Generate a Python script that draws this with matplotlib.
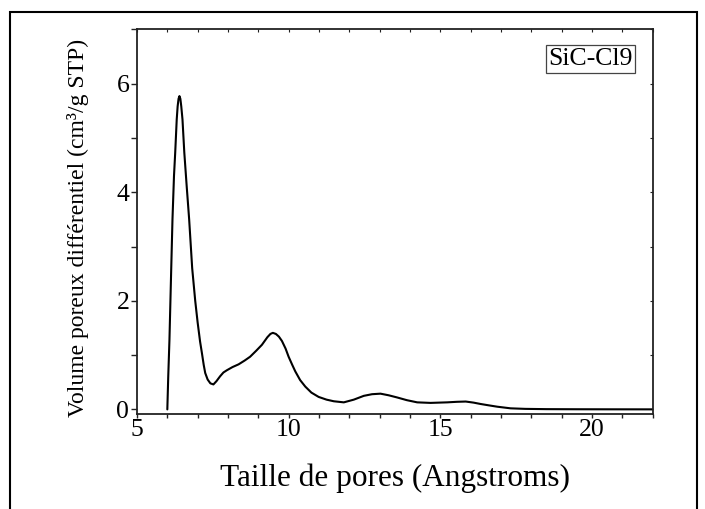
import matplotlib
matplotlib.use("Agg")
import matplotlib.pyplot as plt
from matplotlib.patches import Rectangle
from matplotlib.ticker import MultipleLocator

# ---- data ----
pore_size = [6.00, 6.03, 6.07, 6.12, 6.17, 6.22, 6.26, 6.31, 6.34, 6.37,
             6.40, 6.43, 6.46, 6.50, 6.56, 6.64, 6.72, 6.82, 6.92, 7.00, 7.08,
             7.14, 7.20, 7.25, 7.33, 7.42, 7.52, 7.62, 7.74, 7.85, 7.96,
             8.15, 8.35, 8.55, 8.73, 8.93, 9.12, 9.30, 9.40, 9.48, 9.58,
             9.68, 9.78, 9.90, 10.00, 10.12, 10.22, 10.38, 10.55, 10.75, 10.99,
             11.25, 11.49, 11.82, 12.15, 12.48, 12.75, 13.03, 13.30, 13.58, 13.90,
             14.24, 14.68, 15.23, 15.55, 15.84, 16.10, 16.33, 16.60, 16.88, 17.32,
             17.80, 18.50, 19.50, 20.50, 22.00]
volume = [0.00, 0.60, 1.28, 2.40, 3.50, 4.30, 4.73, 5.34, 5.58, 5.72,
          5.77, 5.72, 5.58, 5.34, 4.73, 4.10, 3.50, 2.60, 2.00, 1.60, 1.25,
          1.04, 0.82, 0.67, 0.55, 0.48, 0.46, 0.52, 0.61, 0.68, 0.72,
          0.78, 0.83, 0.90, 0.97, 1.08, 1.19, 1.33, 1.39, 1.41, 1.39,
          1.34, 1.26, 1.12, 0.97, 0.82, 0.70, 0.54, 0.42, 0.31, 0.23,
          0.18, 0.15, 0.13, 0.18, 0.25, 0.28, 0.29, 0.26, 0.22, 0.17,
          0.13, 0.12, 0.13, 0.14, 0.145, 0.125, 0.10, 0.075, 0.05, 0.02,
          0.01, 0.005, 0.003, 0.002, 0.001]
x_major_ticks = [5, 10, 15, 20]
y_major_ticks = [0, 2, 4, 6]
sample_label = "SiC-Cl9"
x_title = "Taille de pores (Angstroms)"
y_title = "Volume poreux différentiel (cm³/g STP)"

plt.rcParams['font.family'] = ['Liberation Serif', 'DejaVu Serif']

W, H = 705, 509
fig = plt.figure(figsize=(W / 100, H / 100), dpi=100)
fig.patch.set_facecolor('white')

# outer frame (left, top, right visible)
frame = Rectangle((10 / W, -0.05), (697 - 10) / W, 0.05 + 1 - 11.7 / H,
                  transform=fig.transFigure, fill=False, edgecolor='black',
                  linewidth=1.5, clip_on=False)
fig.patches.append(frame)

ax_left, ax_right = 137 / W, 652.5 / W
ax_top, ax_bottom = 1 - 29.3 / H, 1 - 414.3 / H
ax = fig.add_axes([ax_left, ax_bottom, ax_right - ax_left, ax_top - ax_bottom])

ax.plot(pore_size, volume, color='black', linewidth=1.5,
        solid_joinstyle='round', solid_capstyle='round')

ax.set_xlim(5, 22)
ax.set_ylim(-0.09, 7.0)

ax.set_xticks(x_major_ticks)
ax.xaxis.set_minor_locator(MultipleLocator(1))
ax.set_yticks(y_major_ticks)
ax.yaxis.set_minor_locator(MultipleLocator(1))

spine_col = '#222222'
for s in ax.spines.values():
    s.set_color(spine_col)
    s.set_linewidth(1.3)

ax.tick_params(axis='x', which='both', direction='out', length=3.2, width=1.0,
               color=spine_col, labelsize=18.5, pad=0.5, top=False)
ax.tick_params(axis='y', which='both', direction='out', length=4, width=1.0,
               color=spine_col, labelsize=18.5, pad=1.5, right=False)

sec_top = ax.secondary_xaxis('top')
sec_top.set_xticks(list(range(5, 23)))
sec_top.tick_params(direction='in', length=2.5, width=0.8, labeltop=False, color=spine_col)
sec_top.spines['top'].set_visible(False)
sec_right = ax.secondary_yaxis('right')
sec_right.set_yticks(list(range(0, 8)))
sec_right.tick_params(direction='in', length=2.5, width=0.8, labelright=False, color=spine_col)
sec_right.spines['right'].set_visible(False)

ax.set_xlabel(x_title, fontsize=22.5, va='center')
ax.xaxis.set_label_coords(0.5, -(478 - 414.3) / 385)
ax.set_ylabel(y_title, fontsize=17, va='center')
ax.yaxis.set_label_coords((78 - 137) / 515.5, 1 - (228 - 29.3) / 385)

ax.text(0.8797, 0.9229, sample_label, transform=ax.transAxes, fontsize=18.5,
        ha='center', va='center',
        bbox=dict(boxstyle='square,pad=0.1', facecolor='white',
                  edgecolor='#444444', linewidth=0.9))

fig.savefig('out.png', dpi=100, facecolor='white')
